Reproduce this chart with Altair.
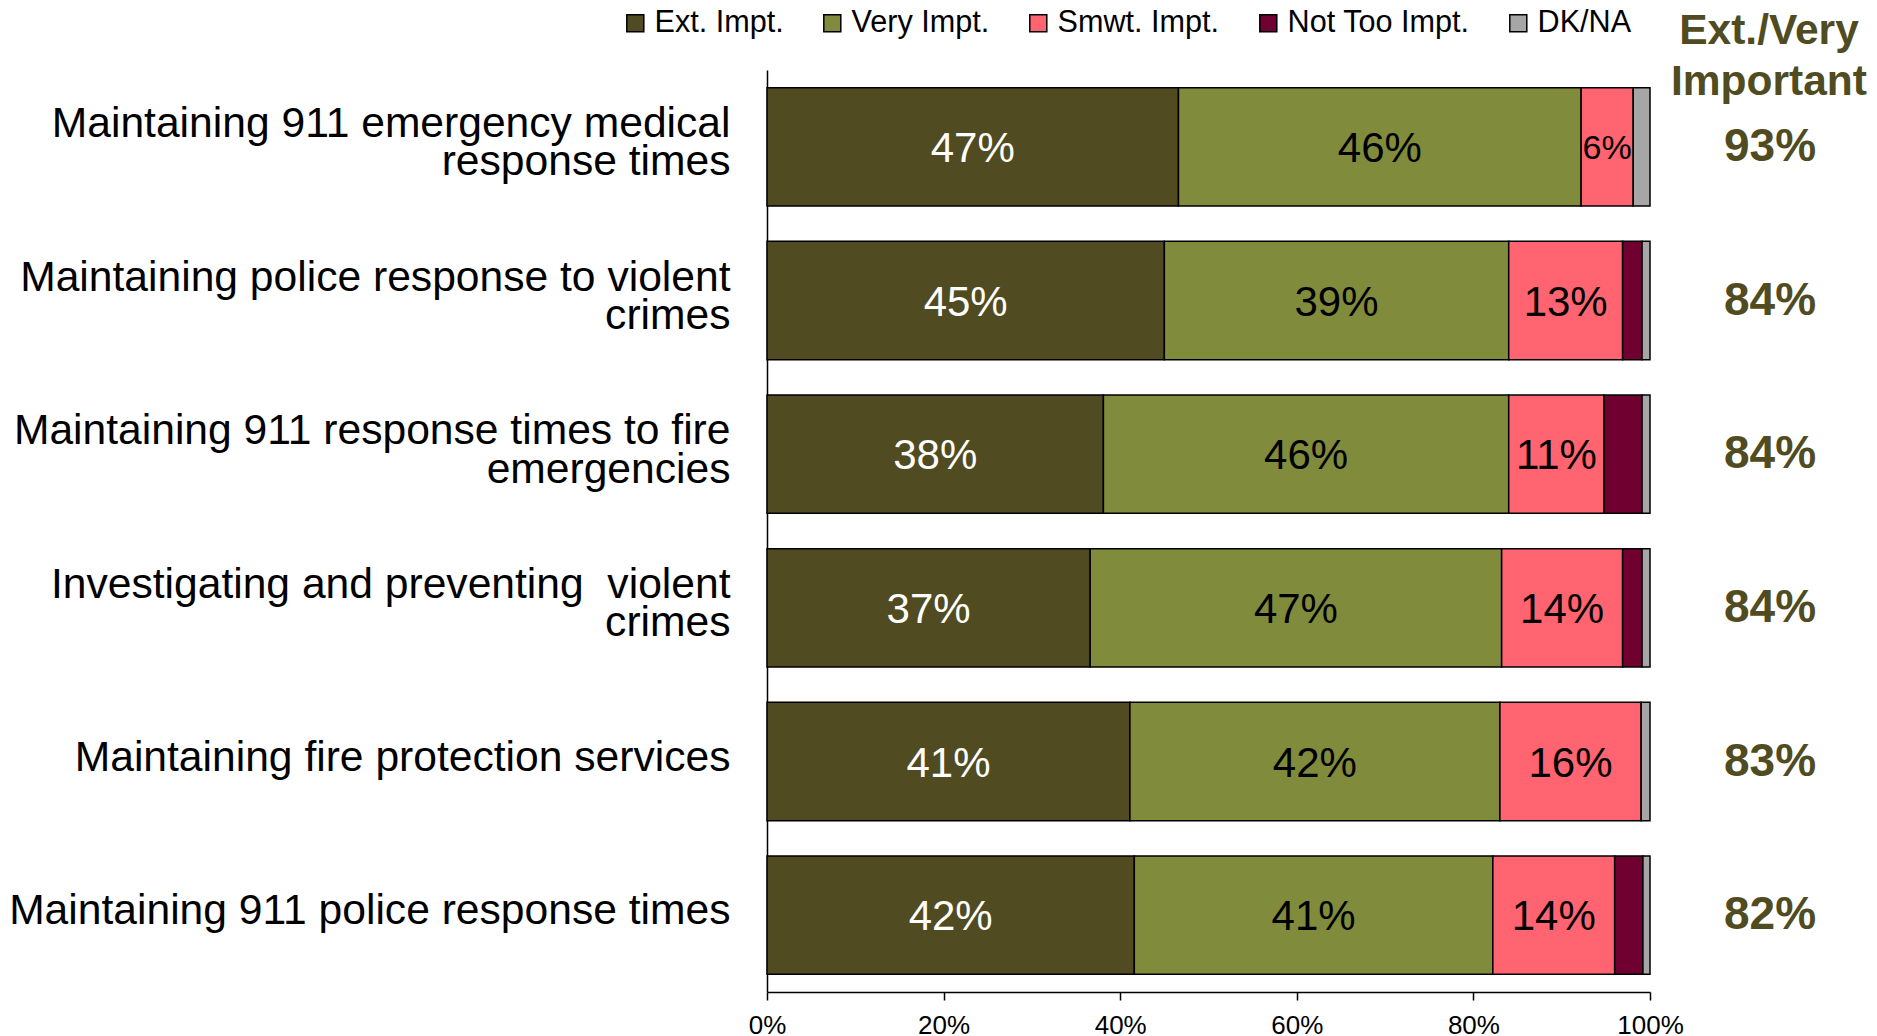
import altair as alt
import pandas as pd

FONT = "Liberation Sans"

tasks = [
    "Maintaining 911 emergency medical|response times",
    "Maintaining police response to violent|crimes",
    "Maintaining 911 response times to fire|emergencies",
    "Investigating and preventing\u00a0 violent|crimes",
    "Maintaining fire protection services",
    "Maintaining 911 police response times",
]
levels = ["Ext. Impt.", "Very Impt.", "Smwt. Impt.", "Not Too Impt.", "DK/NA"]
colors = ["#504B20", "#808B3C", "#FF6470", "#700030", "#A6A6A6"]

ext = [46.6, 45.0, 38.1, 36.6, 41.1, 41.6]
very = [45.6, 39.0, 45.9, 46.6, 41.9, 40.6]
smwt = [5.9, 12.9, 10.8, 13.7, 16.0, 13.8]
not_too = [0.0, 2.2, 4.3, 2.2, 0.0, 3.2]
dk = [1.9, 0.9, 0.9, 0.9, 1.0, 0.8]
ext_very = [93, 84, 84, 84, 83, 82]
x_ticks = [0, 20, 40, 60, 80, 100]

rows = []
for i, t in enumerate(tasks):
    for j, (lvl, vals) in enumerate(zip(levels, [ext, very, smwt, not_too, dk])):
        rows.append({"task": t, "level": lvl, "order": j, "value": vals[i]})
df = pd.DataFrame(rows)
tot = pd.DataFrame({"task": tasks, "tot": [f"{v}%" for v in ext_very]})
hdr = pd.DataFrame({"h": ["Ext./Very|Important"]})

y_enc = alt.Y(
    "task:N", sort=tasks, title=None,
    scale=alt.Scale(paddingInner=0.23, paddingOuter=0.115),
    axis=alt.Axis(
        labelExpr="split(datum.label, '|')", labelFontSize=42.6, labelFont=FONT,
        labelColor="black", labelPadding=37, ticks=False, domainColor="black",
        domainWidth=1.5, labelLineHeight=38.5, labelLimit=900, labelAlign="right",
        labelOffset={"condition": {"test": "indexof(datum.value, '|') >= 0", "value": -23},
                     "value": -4},
    ),
)

base = alt.Chart(df).transform_filter("datum.value > 0").transform_stack(
    stack="value", groupby=["task"], as_=["x0", "x1"],
    sort=[alt.SortField("order", "ascending")],
)

bars = base.mark_bar(stroke="black", strokeWidth=1.5).encode(
    x=alt.X("x0:Q", scale=alt.Scale(domain=[0, 100]), title=None,
            axis=alt.Axis(values=x_ticks, labelExpr="datum.value + '%'", grid=False,
                          tickColor="black", tickSize=8, tickWidth=1.5, domainColor="black",
                          domainWidth=1.5, labelFontSize=26, labelFont=FONT, labelFlush=False,
                          labelColor="black", labelPadding=12)),
    x2="x1:Q",
    y=y_enc,
    color=alt.Color("level:N", scale=alt.Scale(domain=levels, range=colors),
                    legend=alt.Legend(
                        title=None, orient="none", legendX=-147, legendY=-62,
                        direction="horizontal", columns=5, symbolType="square",
                        symbolSize=289, symbolStrokeColor="black", symbolStrokeWidth=1.5,
                        labelFontSize=30.6, labelFont=FONT, labelColor="black",
                        labelLimit=400, labelOffset=4, columnPadding=33)),
)

labels = base.transform_filter("datum.order < 3").transform_calculate(
    mid="(datum.x0 + datum.x1) / 2",
    lab="format(datum.value, '.0f') + '%'",
).mark_text(font=FONT, baseline="middle", align="center", dy=2).encode(
    x="mid:Q",
    y=alt.Y("task:N", sort=tasks),
    text="lab:N",
    color=alt.condition("datum.order == 0", alt.value("white"), alt.value("black")),
    size=alt.condition("datum.value < 8", alt.value(34), alt.value(42)),
)

totals = alt.Chart(tot).mark_text(
    font=FONT, fontWeight="bold", fontSize=46, color="#504B20", align="center", baseline="middle"
).encode(x=alt.value(1003), y=alt.Y("task:N", sort=tasks), text="tot:N")

header = alt.Chart(hdr).mark_text(
    font=FONT, fontWeight="bold", fontSize=42.5, color="#504B20", align="center",
    baseline="middle", lineBreak="|", lineHeight=51,
).encode(x=alt.value(1002), y=alt.value(-39), text="h:N")

chart = alt.layer(bars, labels, totals, header).properties(
    width=883, height=922,
    padding={"left": 759, "top": 62, "right": 218, "bottom": 44},
    autosize=alt.AutoSizeParams(type="none"),
).configure_view(stroke=None)

chart.save("out.html", embed_options={"renderer": "svg", "actions": False})
